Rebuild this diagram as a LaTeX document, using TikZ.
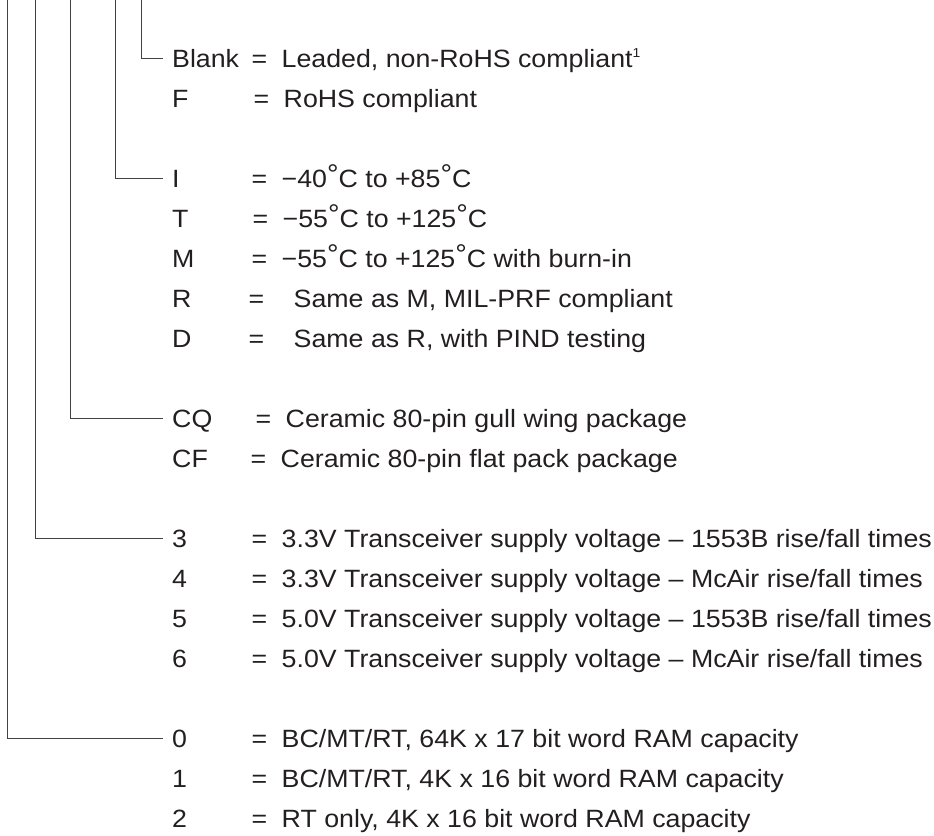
\documentclass[tikz,border=0pt]{standalone}
\usepackage{fontspec}
\setmainfont{Liberation Sans}[FakeStretch=1.07]
\usepackage{tikz}
\usetikzlibrary{calc,positioning}
\definecolor{ink}{HTML}{231F20}
\tikzstyle{lead} = [line width=0.9pt,draw=ink!85,shorten >=9pt]
\tikzstyle{code} = [anchor=base west,inner sep=0pt,text height=18pt,text depth=0pt,text=ink]
\tikzstyle{desc} = [anchor=base west,inner sep=0pt,text=ink]
\newcommand{\dg}{\raisebox{4pt}{\fontsize{27pt}{27pt}\selectfont °}}
\newcommand{\eq}{=\hspace{14.4pt}}

\begin{document}
\begin{tikzpicture}[x=1pt,y=1pt,font=\fontsize{25pt}{30pt}\selectfont]
   	\useasboundingbox (0,0) rectangle (934,-835);
   	% finish
   	\node[code](k_blank) at (172,-67) {Blank};
   	\node[desc](d_blank) at ([xshift=79.5pt]k_blank.base west) {\eq Leaded, non-RoHS compliant\textsuperscript{\fontsize{13pt}{13pt}\selectfont 1}};
   	\node[code](k_f) at (172,-107) {F};
   	\node[desc](d_f) at ([xshift=81.5pt]k_f.base west) {\eq RoHS compliant};
   	% screening
   	\node[code](k_i) at (172,-187) {I};
   	\node[desc](d_i) at ([xshift=79.5pt]k_i.base west) {\eq −40\dg C to +85\dg C};
   	\node[code](k_t) at (172,-227) {T};
   	\node[desc](d_t) at ([xshift=80.5pt]k_t.base west) {\eq −55\dg C to +125\dg C};
   	\node[code](k_m) at (172,-267) {M};
   	\node[desc](d_m) at ([xshift=79.5pt]k_m.base west) {\eq −55\dg C to +125\dg C with burn-in};
   	\node[code](k_r) at (172,-307) {R};
   	\node[desc](d_r) at ([xshift=76.5pt]k_r.base west) {=\hspace{29.4pt}Same as M, MIL-PRF compliant};
   	\node[code](k_d) at (172,-347) {D};
   	\node[desc](d_d) at ([xshift=76.5pt]k_d.base west) {=\hspace{29.4pt}Same as R, with PIND testing};
   	% package
   	\node[code](k_cq) at (172,-427) {CQ};
   	\node[desc](d_cq) at ([xshift=83.5pt]k_cq.base west) {\eq Ceramic 80-pin gull wing package};
   	\node[code](k_cf) at (172,-467) {CF};
   	\node[desc](d_cf) at ([xshift=78.5pt]k_cf.base west) {\eq Ceramic 80-pin flat pack package};
   	% transceiver
   	\node[code](k_3) at (172,-547) {3};
   	\node[desc](d_3) at ([xshift=79.5pt]k_3.base west) {\eq 3.3V Transceiver supply voltage – 1553B rise/fall times};
   	\node[code](k_4) at (172,-587) {4};
   	\node[desc](d_4) at ([xshift=79.5pt]k_4.base west) {\eq 3.3V Transceiver supply voltage – McAir rise/fall times};
   	\node[code](k_5) at (172,-627) {5};
   	\node[desc](d_5) at ([xshift=79.5pt]k_5.base west) {\eq 5.0V Transceiver supply voltage – 1553B rise/fall times};
   	\node[code](k_6) at (172,-667) {6};
   	\node[desc](d_6) at ([xshift=79.5pt]k_6.base west) {\eq 5.0V Transceiver supply voltage – McAir rise/fall times};
   	% ram
   	\node[code](k_0) at (172,-747) {0};
   	\node[desc](d_0) at ([xshift=79.5pt]k_0.base west) {\eq BC/MT/RT, 64K x 17 bit word RAM capacity};
   	\node[code](k_1) at (172,-787) {1};
   	\node[desc](d_1) at ([xshift=79.5pt]k_1.base west) {\eq BC/MT/RT, 4K x 16 bit word RAM capacity};
   	\node[code](k_2) at (172,-827) {2};
   	\node[desc](d_2) at ([xshift=79.5pt]k_2.base west) {\eq RT only, 4K x 16 bit word RAM capacity};
   	% leads from the part number above
   	\coordinate (top_finish) at (141,0);
   	\coordinate (top_screen) at (115,0);
   	\coordinate (top_pkg) at (70,0);
   	\coordinate (top_xcvr) at (35,0);
   	\coordinate (top_ram) at (7,0);
   	\draw[lead] (top_finish) |- (k_blank.west);
   	\draw[lead] (top_screen) |- (k_i.west);
   	\draw[lead] (top_pkg) |- (k_cq.west);
   	\draw[lead] (top_xcvr) |- (k_3.west);
   	\draw[lead] (top_ram) |- (k_0.west);
\end{tikzpicture}
\end{document}
